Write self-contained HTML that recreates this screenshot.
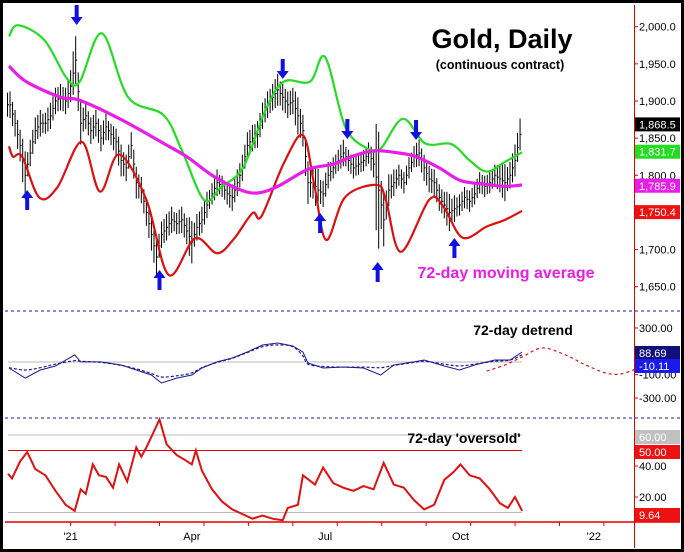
<!DOCTYPE html>
<html><head><meta charset="utf-8"><style>
body{margin:0;background:#fff}
svg{display:block;font-family:"Liberation Sans",Arial,sans-serif}
</style></head><body>
<svg id="c" width="684" height="552" viewBox="0 0 684 552">
<rect x="1.5" y="1.5" width="681" height="549" fill="#fff" stroke="#000" stroke-width="3"/>
<g id="grid"></g>
<g id="price"></g>
<g id="detrend"></g>
<g id="osc"></g>
<g id="axes"></g>
<text x="502" y="48" font-size="27" font-weight="bold" text-anchor="middle">Gold, Daily</text>
<text x="500" y="69" font-size="12.5" font-weight="bold" text-anchor="middle">(continuous contract)</text>
<text x="506" y="278" font-size="16" font-weight="bold" fill="#e81ee8" text-anchor="middle">72-day moving average</text>
<text x="523" y="335" font-size="14" font-weight="bold" text-anchor="middle">72-day detrend</text>
<text x="464" y="443" font-size="14" font-weight="bold" text-anchor="middle">72-day 'oversold'</text>
</svg>
<script>
const barDays=[];for(let i=0;i<102;i++)barDays.push(1+i*2.5);
const closes=[1895,1870,1840,1800,1830,1860,1870,1870,1880,1900,1905,1900,1920,1955,1870,1880,1860,1870,1850,1865,1855,1845,1820,1810,1840,1790,1780,1750,1720,1690,1720,1730,1740,1735,1740,1725,1710,1730,1740,1760,1775,1790,1785,1775,1770,1790,1810,1840,1850,1855,1880,1895,1905,1915,1905,1895,1900,1880,1860,1790,1790,1780,1775,1800,1810,1820,1830,1820,1810,1815,1820,1830,1815,1780,1740,1780,1790,1800,1790,1810,1825,1830,1810,1795,1790,1770,1760,1750,1755,1760,1770,1765,1775,1790,1785,1790,1800,1795,1790,1800,1820,1855];
const ranges=[25,25,30,45,25,25,25,20,25,25,25,25,30,45,40,25,25,25,25,25,20,25,30,25,25,30,25,25,30,35,25,25,25,20,25,25,40,25,25,25,20,25,20,20,25,25,25,25,25,25,25,25,25,30,25,25,25,35,30,40,30,40,25,25,20,20,25,20,20,20,20,20,25,110,50,30,25,20,20,20,20,25,25,25,25,25,25,35,25,20,20,20,20,20,20,20,20,25,35,25,30,30];
const maDays=[0.5,9,26,35.5,56,77,88.5,101,113.5,123,133.5,148.5,161,171,181.5,193.5,202,213.5,224,236,246,254.5];
const maVals=[1947,1926,1905,1901,1875,1843,1825,1800,1782,1776,1785,1808,1815,1826,1833,1830,1825,1810,1793,1788,1785,1787];
const upDays=[0.5,5,18,29,35.5,46.5,59.5,77,86,97,105.5,116.5,127.5,136.5,149.5,157,167,178,184.5,195.5,206.5,219.5,228.5,237,246,254.5];
const upVals=[1987,2002,1982,1931,1926,1991,1905,1881,1834,1767,1784,1811,1888,1926,1926,1959,1865,1836,1836,1876,1843,1842,1820,1805,1818,1831];
const loDays=[0.5,2.5,7,15.5,24.5,36.5,45.5,55,68.5,79.5,92.5,103.5,112,121,125.5,136.5,146,151.5,157.5,167,182.5,187,194.5,208.5,215.5,225,237,246,254.5];
const loVals=[1839,1825,1825,1770,1784,1845,1778,1828,1767,1666,1715,1695,1715,1749,1745,1816,1854,1789,1713,1771,1787,1767,1697,1767,1758,1716,1731,1740,1752];
const dtDays=[0.5,8.5,16,23.5,33,36,46,56,63.5,71,76,83.5,91,96,103.5,111,118.5,126,133.5,141,146,148.5,156,166,176,184.5,191,201,206,216,223.5,231,241,248.5,254.5];
const dtVals=[-43,-129,-60,-26,69,9,9,-17,-60,-103,-171,-129,-103,-43,9,43,94,154,171,146,94,0,-43,-34,-43,-103,-17,9,26,-26,-60,-17,26,26,94];
const dtSmooth=[-40,-60,-40,-10,20,15,5,-20,-50,-90,-120,-110,-85,-40,5,40,90,140,155,140,60,-10,-30,-35,-35,-40,-20,5,15,-10,-25,-10,15,25,70];
const fcDays=[237,246,254.5,264.5,276,286,296,303.5,312];
const fcVals=[-69,-17,51,129,69,-17,-86,-94,-43];
const osDays=[0,2,6,9.5,13.5,18.5,23.5,28.5,33,36,38.5,42,45,48.5,52,55,59,63.5,66,68.5,75,78.5,83.5,87.5,91,93,96,101,106,111,116,121,126,131,136,138.5,143.5,146,152,156,161,166,171,176,181,186,191,196,201,206,211,216,220.5,224,228.5,233.5,238.5,243.5,247.5,251,254.5];
const osVals=[35,32,43,49,38,34,24,15,11,25,22,41,34,33,26,41,30,52,46,52,70,54,47,44,41,50,37,25,17,12,9,6,8,6,5,13,15,34,28,39,29,26,24,27,25,42,28,26,18,12,15,31,36,41,34,32,25,16,13,20,11];
const priceTicks=[2000,1950,1900,1850,1800,1750,1700,1650];
const dtTicks=[300,-100,-300];const dtTickLbl=["300.00","-100.00","-300.00"];
const osTicks=[40,20];const osTickLbl=["40.00","20.00"];
const monthDays=[32,92,158,225,291];const monthLbl=["'21","Apr","Jul","Oct","'22"];
const NS="http://www.w3.org/2000/svg";
const X=d=>8+d*2.02;
const YP=p=>26.7+(2000-p)*0.7429;
const YD=v=>363-v*0.1167;
const YO=v=>Math.min(521,528-v*1.55);
function mk(tag,attrs,parent){const e=document.createElementNS(NS,tag);for(const k in attrs)e.setAttribute(k,attrs[k]);parent.appendChild(e);return e;}
const G=id=>document.getElementById(id);
function poly(days,vals,yf){return days.map((d,i)=>X(d).toFixed(1)+','+yf(vals[i]).toFixed(1)).join(' ');}
function smooth(days,vals,yf){const p=days.map((d,i)=>[X(d),yf(vals[i])]);let s=`M${p[0][0]},${p[0][1]}`;
 for(let i=0;i<p.length-1;i++){const a=p[i-1]||p[i],b=p[i],c=p[i+1],d=p[i+2]||c;
 s+=` C${b[0]+(c[0]-a[0])/6},${b[1]+(c[1]-a[1])/6} ${c[0]-(d[0]-b[0])/6},${c[1]-(d[1]-b[1])/6} ${c[0]},${c[1]}`;}return s;}
let e;
e=mk('line',{x1:5,x2:680,y1:311,y2:311,stroke:'#1a1aa0','stroke-dasharray':'3,3'},G('grid'));

e=mk('line',{x1:5,x2:680,y1:418,y2:418,stroke:'#1a1aa0','stroke-dasharray':'3,3'},G('grid'));

e=mk('line',{x1:8,x2:X(254.5),y1:YD(0)-1,y2:YD(0)-1,stroke:'#b8b8b8'},G('grid'));

e=mk('line',{x1:8,x2:X(254.5),y1:YO(60),y2:YO(60),stroke:'#b8b8b8'},G('grid'));

e=mk('line',{x1:8,x2:X(254.5),y1:YO(50),y2:YO(50),stroke:'#e00000'},G('grid'));

e=mk('line',{x1:8,x2:X(254.5),y1:YO(10),y2:YO(10),stroke:'#b8b8b8'},G('grid'));

closes.forEach((c,i)=>{const x=X(barDays[i]);const r=ranges[i]*1.3;const prev=i>0?closes[i-1]:c;const mid=(c+prev)/2;
 const b=mk('path',{d:`M${x-2.5},${YP(mid+r*0.5)}V${YP(mid-r*0.5)}M${x-2.5},${YP(mid)}h1.5M${x},${YP(c+r*0.55)}V${YP(c-r*0.55)}M${x},${YP(c)}h1.5`,stroke:'#000','stroke-width':1,fill:'none'},G('price'));
 
 });
e=mk('path',{d:smooth(upDays,upVals,YP),fill:'none',stroke:'#22dd22','stroke-width':2.2},G('price'));

e=mk('path',{d:smooth(loDays,loVals,YP),fill:'none',stroke:'#dd1010','stroke-width':2.2},G('price'));

e=mk('path',{d:smooth(maDays,maVals,YP),fill:'none',stroke:'#e81ee8','stroke-width':3.2},G('price'));

const downArrows=[[34,5],[136,59],[168,119],[202,120]];
const upArrows=[[9.5,190],[75,270],[154.5,213],[183,262],[221,238]];
function arrow(x,y,down){return down?`M${x-2},${y} h4 v12 h4 l-6,8 l-6,-8 h4z`:`M${x-2},${y+20} h4 v-12 h4 l-6,-8 l-6,8 h4z`;}
downArrows.forEach(a=>{const ar=mk('path',{d:arrow(X(a[0]),a[1],true),fill:'#1010e0'},G('price'));
 
 });
upArrows.forEach(a=>{const ar=mk('path',{d:arrow(X(a[0]),a[1],false),fill:'#1010e0'},G('price'));
 
 });
e=mk('path',{d:smooth(dtDays,dtSmooth,YD),fill:'none',stroke:'#1a1a90','stroke-width':1.2,'stroke-dasharray':'3,2'},G('detrend'));

e=mk('polyline',{points:poly(dtDays,dtVals,YD),fill:'none',stroke:'#1a1a90','stroke-width':1},G('detrend'));

e=mk('path',{d:smooth(fcDays,fcVals,YD),fill:'none',stroke:'#dd1010','stroke-width':1.2,'stroke-dasharray':'3,3'},G('detrend'));

e=mk('polyline',{points:poly(osDays,osVals,YO),fill:'none',stroke:'#e01010','stroke-width':2},G('osc'));

const A=G('axes');
e=mk('line',{x1:634.5,x2:634.5,y1:5,y2:548,stroke:'#e00000'},A);

e=mk('line',{x1:5,x2:680,y1:522,y2:522,stroke:'#e00000','stroke-width':1.5},A);

function lbl(txt,x,y,name,fill){const t=mk('text',{x:x,y:y,'font-size':11,fill:fill||'#000'},A);t.textContent=txt;
 
 return t;}
priceTicks.forEach(p=>{mk('line',{x1:634,x2:638,y1:YP(p),y2:YP(p),stroke:'#e00000'},A);lbl(p.toLocaleString('en-US',{minimumFractionDigits:1}),639,YP(p)+4,'price-tick-label');});
dtTicks.forEach((v,i)=>{mk('line',{x1:634,x2:638,y1:YD(v),y2:YD(v),stroke:'#e00000'},A);lbl(dtTickLbl[i],639,YD(v)+4,'detrend-tick-label');});
osTicks.forEach((v,i)=>{mk('line',{x1:634,x2:638,y1:YO(v),y2:YO(v),stroke:'#e00000'},A);lbl(osTickLbl[i],639,YO(v)+4,'oversold-tick-label');});
for(let m=0;m<14;m++){const d=32+m*22;if(X(d)<634)mk('line',{x1:X(d)-2,x2:X(d)-2,y1:522,y2:526,stroke:'#e00000'},A);}
monthDays.forEach((d,i)=>{const t=lbl(monthLbl[i],X(d)-2,540,'x-tick-label');t.setAttribute('text-anchor','middle');});
const boxes=[[1868.5,'1,868.5','#000','#fff',YP(1868.5)],[1831.7,'1,831.7','#22dd22','#fff',YP(1831.7)],[1785.9,'1,785.9','#e81ee8','#fff',YP(1785.9)],[1750.4,'1,750.4','#ee1111','#fff',YP(1750.4)],[88.69,'88.69','#10107a','#fff',353],[-10.11,'-10.11','#1a1aee','#fff',366],[60,'60.00','#c0c0c0','#fff',437],[50,'50.00','#ee1111','#fff',452],[9.64,'9.64','#ee1111','#fff',515]];
boxes.forEach(b=>{const r=mk('rect',{x:635,y:b[4]-7,width:45,height:14,fill:b[2]},A);
 
 
 lbl(b[1],639,b[4]+4,'last-value-label',b[3]);});
</script>
</body></html>
